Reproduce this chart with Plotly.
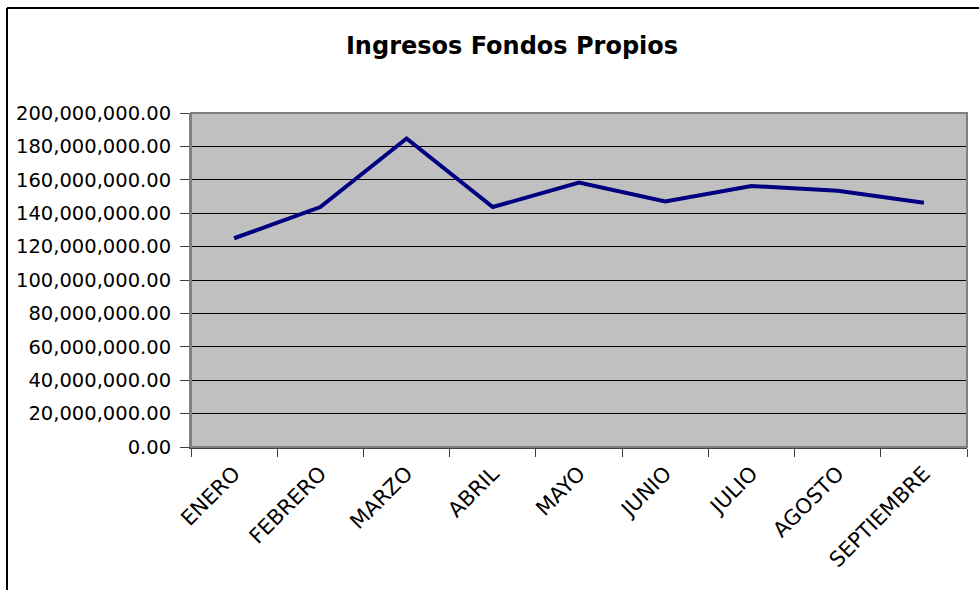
import plotly.graph_objects as go

months = ["ENERO", "FEBRERO", "MARZO", "ABRIL", "MAYO", "JUNIO", "JULIO", "AGOSTO", "SEPTIEMBRE"]
ingresos = [125000000, 143700000, 184700000, 143700000, 158300000, 147000000, 156300000, 153400000, 146300000]
y_ticks = [0, 20000000, 40000000, 60000000, 80000000, 100000000, 120000000, 140000000, 160000000, 180000000, 200000000]
y_labels = [f"{v:,.2f}" for v in y_ticks]

W, H = 979, 590
L, R, T, B = 191, 12, 113, 143
pw, ph = W - L - R, H - T - B

fig = go.Figure()
fig.add_trace(go.Scatter(
    x=months, y=ingresos, mode="lines",
    line=dict(color="#000080", width=4),
    hoverinfo="x+y",
))

font_main = "DejaVu Sans, Arial, sans-serif"

fig.update_layout(
    width=W, height=H,
    margin=dict(l=L, r=R, t=T, b=B),
    paper_bgcolor="white",
    plot_bgcolor="#c0c0c0",
    showlegend=False,
    title=dict(
        text="<b>Ingresos Fondos Propios</b>",
        x=512 / W, xanchor="center",
        y=1 - 46 / H, yanchor="middle",
        font=dict(family=font_main, size=24, color="black"),
    ),
    xaxis=dict(
        type="category",
        tickson="boundaries",
        ticks="outside", ticklen=8, tickcolor="#404040", tickwidth=1,
        showline=True, linecolor="#404040", linewidth=2,
        showgrid=False,
        tickangle=-45,
        ticklabelstandoff=4,
        tickfont=dict(family=font_main, size=21, color="black"),
        range=[-0.5, len(months) - 0.5],
    ),
    yaxis=dict(
        range=[0, 200000000],
        tickvals=y_ticks, ticktext=y_labels,
        ticks="outside", ticklen=9, tickcolor="#404040", tickwidth=1,
        showline=True, linecolor="#808080", linewidth=2,
        showgrid=True, gridcolor="black", gridwidth=1,
        zeroline=False,
        ticklabelstandoff=5,
        tickfont=dict(family=font_main, size=19.5, color="black"),
    ),
)

# plot-area border (top/right in gray)
fig.add_shape(type="rect", xref="paper", yref="paper", x0=0, y0=0, x1=1, y1=1,
              line=dict(color="#808080", width=2), layer="above")
# outer chart frame (left and top visible)
xl = (7 - L) / pw
yt = (H - B - 8) / ph
fig.add_shape(type="line", xref="paper", yref="paper", x0=xl, x1=xl, y0=-1, y1=yt,
              line=dict(color="black", width=2))
fig.add_shape(type="line", xref="paper", yref="paper", x0=xl, x1=2, y0=yt, y1=yt,
              line=dict(color="black", width=2))

fig.write_html("out.html", config={"displayModeBar": False},
               post_script="document.body.style.margin='0';document.body.style.overflow='hidden';")
